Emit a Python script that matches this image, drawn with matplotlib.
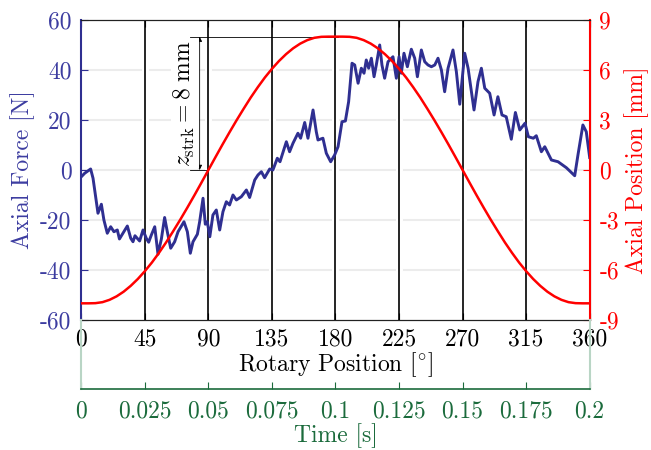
import numpy as np
import matplotlib
matplotlib.use('Agg')
import matplotlib.pyplot as plt
import matplotlib.patheffects as pe

plt.rcParams['font.family'] = ['cmr10', 'DejaVu Serif']
plt.rcParams['mathtext.fontset'] = 'cm'
plt.rcParams['axes.unicode_minus'] = False

# axial force (rotary position in deg, force in N)
force_deg = [0, 2.4, 6.6, 8.3, 10.6, 11.8, 14.2, 16.0, 18.4, 20.8, 23.1, 25.5, 27.0,
             29.5, 32.6, 35.0, 36.6, 38.0, 41.3, 43.7, 46.0, 47.7, 49.6, 52.0, 54.3,
             56.7, 59.0, 60.9, 63.3, 66.1, 68.5, 72.7, 75.1, 77.2, 79.1, 82.2, 83.8,
             86.2, 87.8, 89.2, 91.0, 93.2, 95.6, 98.0, 100.3, 102.7, 105.0, 107.4,
             109.8, 113.3, 116.9, 119.2, 122.8, 125.1, 127.5, 129.8, 133.4, 135.7,
             138.8, 140.7, 145.2, 147.5, 149.9, 153.4, 155.3, 158.2, 160.5, 164.1,
             166.4, 167.6, 171.1, 173.5, 176.6, 179.4, 181.8, 184.6, 187.0, 189.3,
             191.7, 193.6, 196.0, 198.3, 200.2, 201.8, 203.5, 205.4, 207.3, 208.9,
             211.3, 212.9, 214.8, 217.2, 220.7, 223.1, 225.0, 226.6, 228.5, 230.9,
             233.7, 236.1, 238.0, 240.8, 243.2, 245.5, 247.9, 250.3, 252.6, 255.0,
             257.3, 259.7, 263.2, 265.6, 268.0, 271.5, 273.9, 278.1, 280.9, 283.3,
             285.7, 289.2, 292.3, 295.0, 297.9, 300.9, 304.5, 307.4, 310.5, 314.2,
             316.6, 320.1, 322.2, 325.8, 328.2, 332.9, 337.6, 343.5, 346.5, 349.4,
             351.7, 355.2, 357.6, 360.0]
force_N = [-2.7, -1.3, 0.4, -3.3, -12.7, -17.3, -13.7, -20.0, -25.3, -22.7, -24.7,
           -24.0, -27.6, -25.3, -22.4, -27.3, -28.7, -26.3, -28.4, -24.0, -27.3,
           -28.9, -26.0, -22.7, -33.7, -27.6, -19.0, -24.7, -31.3, -28.7, -24.7,
           -20.7, -24.7, -33.3, -28.7, -25.7, -20.7, -11.3, -21.7, -20.7, -26.7,
           -18.0, -16.0, -24.0, -16.7, -12.7, -14.0, -10.0, -12.0, -10.7, -8.0,
           -11.0, -4.0, -2.0, -0.7, -3.1, 0.4, 0.0, 4.7, 3.3, 11.3, 7.3, 10.7,
           14.7, 12.7, 19.0, 12.7, 24.0, 15.3, 12.0, 12.7, 6.7, 3.3, 6.0, 9.3,
           19.3, 19.6, 27.3, 42.7, 42.0, 34.7, 40.7, 38.7, 44.0, 40.7, 44.7, 37.3,
           42.0, 50.0, 42.0, 36.7, 43.3, 45.3, 36.7, 45.3, 38.7, 46.7, 41.3, 48.3,
           44.7, 37.3, 48.0, 43.3, 42.0, 41.3, 42.0, 44.7, 40.0, 31.3, 40.7, 48.0,
           39.3, 26.3, 46.7, 40.7, 24.0, 35.3, 40.7, 32.7, 30.7, 22.0, 29.3, 22.0,
           21.3, 12.3, 23.0, 16.0, 18.7, 13.3, 12.7, 13.7, 7.3, 9.3, 4.0, 3.3,
           0.9, -0.7, -2.3, 6.0, 18.0, 15.3, 5.0]

# axial position (deg, mm)
pos_deg = np.arange(0, 361, 5)
pos_mm = [-8.00, -8.00, -7.99, -7.93, -7.79, -7.58, -7.30, -6.95, -6.54, -6.07,
          -5.55, -4.97, -4.35, -3.68, -2.99, -2.27, -1.53, -0.77, 0.00,
          0.77, 1.53, 2.27, 2.99, 3.68, 4.35, 4.97, 5.55, 6.07, 6.54,
          6.95, 7.30, 7.58, 7.79, 7.93, 7.99, 8.00, 8.00,
          8.00, 7.99, 7.93, 7.79, 7.58, 7.30, 6.95, 6.54, 6.07, 5.55,
          4.97, 4.35, 3.68, 2.99, 2.27, 1.53, 0.77, 0.00,
          -0.77, -1.53, -2.27, -2.99, -3.68, -4.35, -4.97, -5.55, -6.07,
          -6.54, -6.95, -7.30, -7.58, -7.79, -7.93, -7.99, -8.00, -8.00]

rot_ticks = [0, 45, 90, 135, 180, 225, 270, 315, 360]
force_ticks = [-60, -40, -20, 0, 20, 40, 60]
pos_ticks = [-9, -6, -3, 0, 3, 6, 9]
time_ticks = [0, 0.025, 0.05, 0.075, 0.1, 0.125, 0.15, 0.175, 0.2]
time_labels = ['0', '0.025', '0.05', '0.075', '0.1', '0.125', '0.15', '0.175', '0.2']
stroke = 8

blue = '#2f2f91'
blue_txt = '#3c3ca0'
red = '#ff0000'
green = '#1b6b3c'
fs = 17

fig = plt.figure(figsize=(6.51, 4.5), dpi=100)
L, W = 0.1249, 0.7809
ax = fig.add_axes([L, 0.2889, W, 0.6667])
ax2 = ax.twinx()

ax.set_xlim(0, 360)
ax.set_ylim(-60, 60)
ax2.set_ylim(-9, 9)

# grid
for y in force_ticks[1:-1]:
    ax.axhline(y, color='#ececec', lw=1.5, zorder=0.5)
for x in rot_ticks[1:-1]:
    ax.axvline(x, color='black', lw=1.2, zorder=1,
               path_effects=[pe.Stroke(linewidth=5, foreground='white'), pe.Normal()])

ax.plot(force_deg, force_N, color=blue, lw=2.1, zorder=3)
ax2.plot(pos_deg, pos_mm, color=red, lw=1.8, zorder=3)

# stroke annotation
ax2.plot([76.7, 182], [stroke, stroke], color='black', lw=0.6)
ax2.plot([76.7, 90], [0, 0], color='black', lw=0.6)
ax2.annotate('', xy=(83.8, stroke), xytext=(83.8, 0),
             arrowprops=dict(arrowstyle='<|-|>', color='black', lw=0.6,
                             mutation_scale=7, shrinkA=0, shrinkB=0))
ax2.text(73.2, stroke / 2, r'$z_{\mathrm{strk}} = 8\ \mathrm{mm}$', rotation=90,
         ha='center', va='center', fontsize=17,
         bbox=dict(facecolor='white', edgecolor='none', pad=1))

ax.set_xticks(rot_ticks)
ax.set_xticklabels([str(t) for t in rot_ticks])
ax.set_yticks(force_ticks)
ax.set_yticklabels([str(t) for t in force_ticks])
ax2.set_yticks(pos_ticks)
ax2.set_yticklabels([str(t) for t in pos_ticks])

ax.tick_params(axis='x', direction='in', length=5, labelsize=fs, pad=6,
               top=True, colors='black')
ax.tick_params(axis='y', direction='in', length=5, labelsize=fs, pad=7,
               colors=blue, labelcolor=blue_txt)
ax2.tick_params(axis='y', direction='in', length=5, labelsize=fs, pad=7,
                colors=red, labelcolor=red)

ax.spines['left'].set_color(blue)
ax.spines['left'].set_linewidth(1.5)
ax2.spines['left'].set_visible(False)
ax2.spines['right'].set_color(red)
ax2.spines['right'].set_linewidth(1.5)
for sp in ['top', 'bottom']:
    ax2.spines[sp].set_color('#222222')

ax.set_xlabel(r'Rotary Position [$^{\circ}$]', fontsize=fs, labelpad=0)
ax.set_ylabel('Axial Force [N]', fontsize=fs, color=blue_txt, labelpad=4)
ax2.set_ylabel('Axial Position [mm]', fontsize=fs, color=red, labelpad=4)

# time axis below
ax3 = fig.add_axes([L, 0.1356, W, 0.1533])
ax3.patch.set_visible(False)
ax3.set_xlim(0, 0.2)
ax3.set_yticks([])
ax3.set_xticks(time_ticks)
ax3.set_xticklabels(time_labels)
ax3.spines['top'].set_visible(False)
ax3.spines['bottom'].set_color(green)
ax3.spines['bottom'].set_linewidth(1.2)
for sp in ['left', 'right']:
    ax3.spines[sp].set_color('#b9d5c5')
    ax3.spines[sp].set_linewidth(1.5)
ax3.tick_params(axis='x', direction='in', length=5, labelsize=fs, pad=8,
                colors=green, labelcolor=green)
ax3.set_xlabel('Time [s]', fontsize=fs, color=green, labelpad=1)

fig.savefig('out.png', dpi=100)
